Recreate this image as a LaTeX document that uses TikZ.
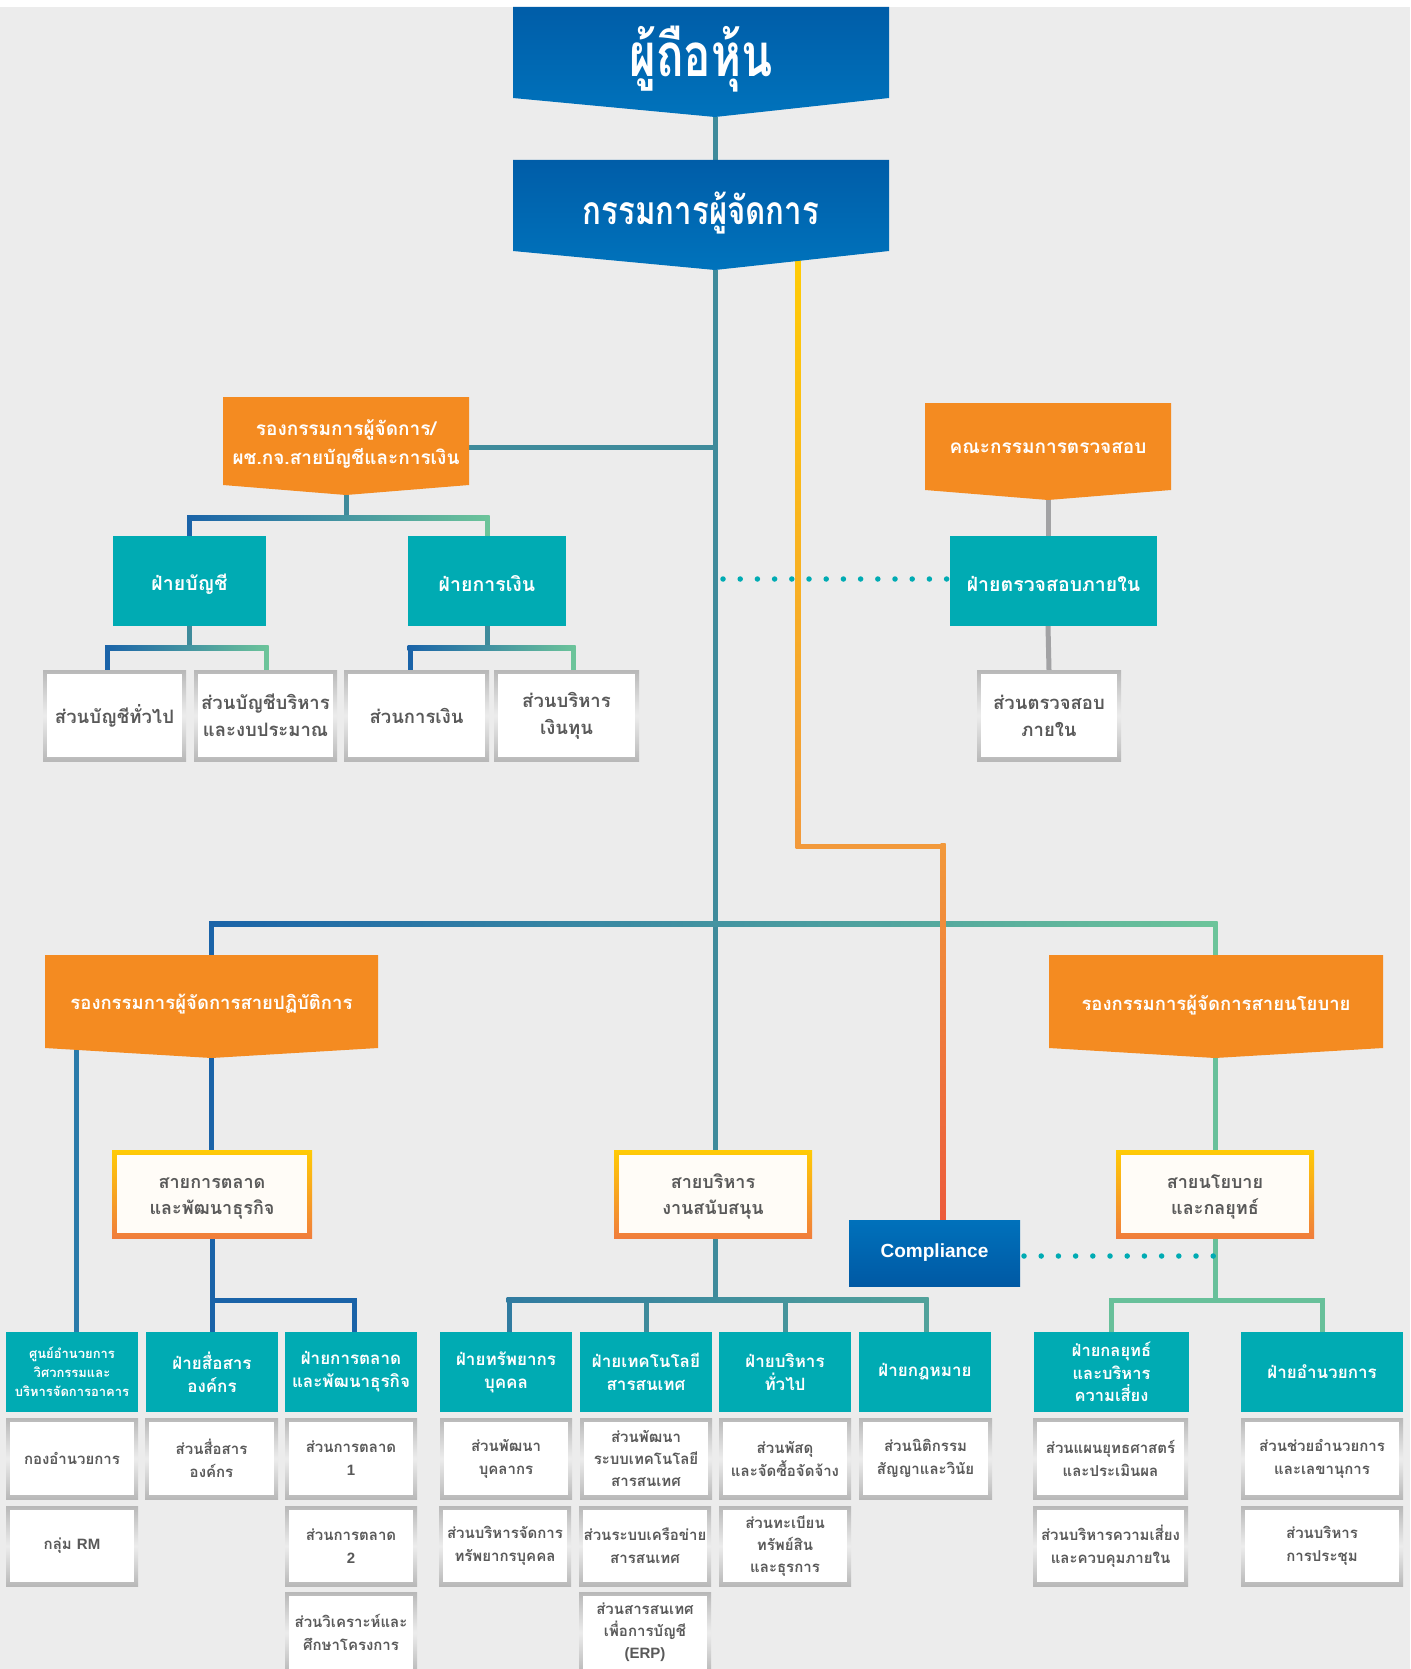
\documentclass[tikz,border=0pt]{standalone}
\usepackage{fontspec}
\setmainfont{Liberation Sans}
\newfontfamily\thai[Script=Thai]{Loma}
\newfontfamily\lsans{Liberation Sans}
\usetikzlibrary{calc}
\pgfdeclarelayer{bg}\pgfdeclarelayer{lines}\pgfdeclarelayer{shapes}
\pgfsetlayers{bg,lines,shapes,main}
\definecolor{bgc}{HTML}{ECECEC}
\definecolor{tealc}{HTML}{00ABB3}
\definecolor{orc}{HTML}{F48B21}
\definecolor{blu1}{HTML}{005DA8}
\definecolor{blu2}{HTML}{0073BC}
\definecolor{cmp1}{HTML}{0071BB}
\definecolor{cmp2}{HTML}{0059A4}
\definecolor{cb}{HTML}{1A63A8}
\definecolor{cbb}{HTML}{2A7BAA}
\definecolor{ct}{HTML}{3F8B9B}
\definecolor{cg}{HTML}{6CC49A}
\definecolor{gryl}{HTML}{A2A2A4}
\definecolor{txtg}{HTML}{595959}
\definecolor{gr1}{HTML}{B8B8B8}
\definecolor{gr2}{HTML}{ECECEC}
\definecolor{yel}{HTML}{FFCB05}
\definecolor{org2}{HTML}{F07D3C}
\definecolor{offw}{HTML}{FFFCF7}
\definecolor{orgL}{HTML}{F2993B}
\definecolor{redo}{HTML}{EC5B3C}
\newcommand\fsz[2]{\fontsize{#1}{#2}\selectfont}
\newcommand\lat[1]{{\lsans\bfseries #1}}
\newcommand\saytext[2]{\raisebox{-2.5pt}[\height][\depth]{\begin{tabular}{@{}c@{}}#1\\#2\end{tabular}}}
\newcommand\lowr[1]{\raisebox{-3pt}[\height][\depth]{#1}}
\begin{document}
\begin{tikzpicture}[x=1pt,y=-1pt,
  every node/.style={inner sep=0pt,outer sep=0pt},
  sz/.style 2 args={minimum width=#1pt,minimum height=#2pt},
  chev/.style={rectangle},
  ctxt/.style={text=white,align=center},
  ln/.style={line width=5pt},
  dots/.style={draw=tealc,line width=5.5pt,line cap=round,dash pattern=on 0pt off 17.2pt},
  tealbox/.style={rectangle,fill=tealc,text=white,align=center},
  subbox/.style={rectangle,top color=gr1,bottom color=gr1,middle color=gr2,text=txtg,align=center,
    path picture={\fill[white] ([xshift=4pt,yshift=-4pt]path picture bounding box.north west) rectangle ([xshift=-4pt,yshift=4pt]path picture bounding box.south east);}},
  saybox/.style={rectangle,top color=yel,bottom color=org2,text=txtg,align=center,
    font=\thai\bfseries\fsz{18}{26},
    path picture={\fill[offw] ([xshift=5pt,yshift=-5pt]path picture bounding box.north west) rectangle ([xshift=-5pt,yshift=5pt]path picture bounding box.south east);}},
  subA/.style={subbox,font=\thai\bfseries\fsz{18.5}{27}},
  subB/.style={subbox,font=\thai\bfseries\fsz{15}{23}},
  tealA/.style={tealbox,font=\thai\bfseries\fsz{19.5}{28}},
  tealB/.style={tealbox,font=\thai\bfseries\fsz{17}{23}},
  compbox/.style={rectangle,top color=cmp1,bottom color=cmp2,text=white,font=\lsans\bfseries\fsz{19}{22}}
]
\useasboundingbox (0,0) rectangle (1410,1669);
\begin{pgfonlayer}{bg}
\fill[white] (0,0) rectangle (1410,1669);
\fill[bgc] (0,7) rectangle (1410,1669);
\end{pgfonlayer}

% ---------- chevron headers ----------
\node[chev,sz={376}{91}] (sh) at (701,52.5) {};
\coordinate (shtip) at (715,117);
\node[ctxt,font=\thai\bfseries\fsz{60}{62}] (sht) at (701,59) {\scalebox{0.76}[1]{ผู้ถือหุ้น}};

\node[chev,sz={376}{91}] (md) at (701,205.5) {};
\coordinate (mdtip) at (715,270);
\node[ctxt,font=\thai\bfseries\fsz{39}{40}] (mdt) at (701,213) {\scalebox{0.8}[1]{กรรมการผู้จัดการ}};

\node[chev,sz={246}{88}] (dfa) at (346,441) {};
\coordinate (dfatip) at (346,495);
\node[ctxt,font=\thai\bfseries\fsz{19}{29}] (dfat) at (346,444) {รองกรรมการผู้จัดการ/\\ผช.กจ.สายบัญชีและการเงิน};

\node[chev,sz={246}{87}] (ac) at (1048,446.5) {};
\coordinate (actip) at (1048,500);
\node[ctxt,font=\thai\bfseries\fsz{19}{29}] (act) at (1048,448) {คณะกรรมการตรวจสอบ};

\node[chev,sz={333}{93}] (dop) at (211.5,1001.5) {};
\coordinate (doptip) at (211.5,1058);
\node[ctxt,font=\thai\bfseries\fsz{18.5}{29}] (dopt) at (211.5,1004) {รองกรรมการผู้จัดการสายปฏิบัติการ};

\node[chev,sz={334}{93}] (dpol) at (1216,1001.5) {};
\coordinate (dpoltip) at (1215,1058);
\node[ctxt,font=\thai\bfseries\fsz{18.5}{29}] (dpolt) at (1216,1005) {รองกรรมการผู้จัดการสายนโยบาย};

\begin{pgfonlayer}{shapes}
\shade[top color=blu1,bottom color=blu2] (sh.north west) -- (sh.north east) -- (sh.south east) -- (shtip) -- (sh.south west) -- cycle;
\shade[top color=blu1,bottom color=blu2] (md.north west) -- (md.north east) -- (md.south east) -- (mdtip) -- (md.south west) -- cycle;
\fill[orc] (dfa.north west) -- (dfa.north east) -- (dfa.south east) -- (dfatip) -- (dfa.south west) -- cycle;
\fill[orc] (ac.north west) -- (ac.north east) -- (ac.south east) -- (actip) -- (ac.south west) -- cycle;
\fill[orc] (dop.north west) -- (dop.north east) -- (dop.south east) -- (doptip) -- (dop.south west) -- cycle;
\fill[orc] (dpol.north west) -- (dpol.north east) -- (dpol.south east) -- (dpoltip) -- (dpol.south west) -- cycle;
\end{pgfonlayer}

% ---------- upper departments ----------
\node[tealA,sz={153}{90}] (acc) at (189.5,581) {\lowr{ฝ่ายบัญชี}};
\node[tealA,sz={158}{90}] (fin) at (487,581) {\lowr{ฝ่ายการเงิน}};
\node[tealA,sz={207}{90}] (ia) at (1053.5,581) {\lowr{ฝ่ายตรวจสอบภายใน}};

\node[subA,sz={143}{91}] (s1) at (114.5,715.5) {ส่วนบัญชีทั่วไป};
\node[subA,sz={143}{91}] (s2) at (265.5,715.5) {ส่วนบัญชีบริหาร\\และงบประมาณ};
\node[subA,sz={145}{91}] (s3) at (416.5,715.5) {ส่วนการเงิน};
\node[subA,sz={145}{91}] (s4) at (566.5,715.5) {ส่วนบริหาร\\เงินทุน};
\node[subA,sz={144}{91}] (s5) at (1049,715.5) {ส่วนตรวจสอบ\\ภายใน};

% ---------- lines of business ----------
\node[saybox,sz={200}{88}] (mk) at (212,1194) {\saytext{สายการตลาด}{และพัฒนาธุรกิจ}};
\node[saybox,sz={198}{88}] (sp) at (713,1194) {\saytext{สายบริหาร}{งานสนับสนุน}};
\node[saybox,sz={198}{88}] (ps) at (1215,1194) {\saytext{สายนโยบาย}{และกลยุทธ์}};
\node[compbox,sz={171}{66}] (comp) at (934.5,1253) {Compliance};

% ---------- lower departments ----------
\node[tealB,sz={132}{80},font=\thai\bfseries\fsz{13}{19}] (d1) at (72,1372) {ศูนย์อำนวยการ\\วิศวกรรมและ\\บริหารจัดการอาคาร};
\node[tealB,sz={132}{80}] (d2) at (212,1372) {ฝ่ายสื่อสาร\\องค์กร};
\node[tealB,sz={132}{80}] (d3) at (351,1372) {ฝ่ายการตลาด\\และพัฒนาธุรกิจ};
\node[tealB,sz={132}{80}] (d4) at (506,1372) {ฝ่ายทรัพยากร\\บุคคล};
\node[tealB,sz={132}{80}] (d5) at (646,1372) {ฝ่ายเทคโนโลยี\\สารสนเทศ};
\node[tealB,sz={132}{80}] (d6) at (785,1372) {ฝ่ายบริหาร\\ทั่วไป};
\node[tealB,sz={132}{80}] (d7) at (925,1372) {ฝ่ายกฎหมาย};
\node[tealB,sz={155}{80},font=\thai\bfseries\fsz{16.5}{22.5}] (d8) at (1111.5,1372) {ฝ่ายกลยุทธ์\\และบริหาร\\ความเสี่ยง};
\node[tealB,sz={162}{80}] (d9) at (1322,1372) {ฝ่ายอำนวยการ};

\node[subB,sz={132}{81}] (c1a) at (72,1458.5) {กองอำนวยการ};
\node[subB,sz={132}{80}] (c1b) at (72,1546) {กลุ่ม \lat{RM}};
\node[subB,sz={133}{81}] (c2a) at (211.5,1458.5) {ส่วนสื่อสาร\\องค์กร};
\node[subB,sz={132}{81}] (c3a) at (351,1458.5) {ส่วนการตลาด\\\lat{1}};
\node[subB,sz={132}{80}] (c3b) at (351,1546) {ส่วนการตลาด\\\lat{2}};
\node[subB,sz={132}{81}] (c3c) at (351,1632.5) {ส่วนวิเคราะห์และ\\ศึกษาโครงการ};
\node[subB,sz={132}{81}] (c4a) at (506,1458.5) {ส่วนพัฒนา\\บุคลากร};
\node[subB,sz={132}{80}] (c4b) at (505,1546) {ส่วนบริหารจัดการ\\ทรัพยากรบุคคล};
\node[subB,sz={132}{81},font=\thai\bfseries\fsz{15}{22}] (c5a) at (646,1458.5) {ส่วนพัฒนา\\ระบบเทคโนโลยี\\สารสนเทศ};
\node[subB,sz={132}{80}] (c5b) at (645,1546) {ส่วนระบบเครือข่าย\\สารสนเทศ};
\node[subB,sz={132}{81},font=\thai\bfseries\fsz{15}{22}] (c5c) at (645,1632.5) {ส่วนสารสนเทศ\\เพื่อการบัญชี\\\lat{(ERP)}};
\node[subB,sz={132}{81}] (c6a) at (785,1458.5) {ส่วนพัสดุ\\และจัดซื้อจัดจ้าง};
\node[subB,sz={132}{80},font=\thai\bfseries\fsz{15}{22}] (c6b) at (785,1546) {ส่วนทะเบียน\\ทรัพย์สิน\\และธุรการ};
\node[subB,sz={133}{81}] (c7a) at (925.5,1458.5) {ส่วนนิติกรรม\\สัญญาและวินัย};
\node[subB,sz={155}{81}] (c8a) at (1110.5,1458.5) {ส่วนแผนยุทธศาสตร์\\และประเมินผล};
\node[subB,sz={155}{80}] (c8b) at (1110.5,1546) {ส่วนบริหารความเสี่ยง\\และควบคุมภายใน};
\node[subB,sz={162}{81}] (c9a) at (1322,1458.5) {ส่วนช่วยอำนวยการ\\และเลขานุการ};
\node[subB,sz={162}{80}] (c9b) at (1322,1546) {ส่วนบริหาร\\การประชุม};

% ---------- connectors ----------
\begin{pgfonlayer}{lines}
\draw[ln,ct] (shtip) -- (md.north -| shtip);
\draw[ln,ct] (mdtip) -- (mdtip |- sp.north);
\coordinate (j1) at (715,447);
\draw[ln,ct] (j1) -- (j1 -| dfa.east);
% dfa bracket
\coordinate (b1) at (346,518);
\draw[ln,ct] (dfatip) -- (b1);
\draw[ln,cb] (acc.north |- b1) -- (acc.north);
\draw[ln,cg] (fin.north |- b1) -- (fin.north);
\shade[left color=cb,middle color=ct,right color=cg] ($(acc.north |- b1)+(-2.5,-2.5)$) rectangle ($(fin.north |- b1)+(2.5,2.5)$);
% acc bracket
\coordinate (b2) at (189.5,648);
\coordinate (b2L) at ($(s1.north |- b2)+(-7,0)$);
\coordinate (b2R) at ($(s2.north |- b2)+(0.5,0)$);
\draw[ln,ct] (acc.south) -- (b2);
\draw[ln,cb] (b2L) -- (b2L |- s1.north);
\draw[ln,cg] (b2R) -- (b2R |- s2.north);
\shade[left color=cb,middle color=ct,right color=cg] ($(b2L)+(-2.5,-2.5)$) rectangle ($(b2R)+(2.5,2.5)$);
% fin bracket
\coordinate (b3) at (487,648);
\coordinate (b3L) at ($(s3.north |- b3)+(-6.5,0)$);
\coordinate (b3R) at ($(s4.north |- b3)+(6.5,0)$);
\draw[ln,ct] (fin.south) -- (b3);
\draw[ln,cb] (b3L) -- (b3L |- s3.north);
\draw[ln,cg] (b3R) -- (b3R |- s4.north);
\shade[left color=cb,middle color=ct,right color=cg] ($(b3L)+(-2.5,-2.5)$) rectangle ($(b3R)+(2.5,2.5)$);
% audit
\draw[ln,gryl] (actip) -- (ia.north -| actip);
\draw[ln,gryl] (ia.south -| actip) -- (s5.north);
\draw[dots] ($(mdtip |- ia.west)+(8,-2)$) -- ($(ia.west)+(0,-2)$);
% main bus
\coordinate (b4) at (715,924);
\draw[ln,cb] (dop.north |- b4) -- (dop.north);
\draw[ln,cg] (dpoltip |- b4) -- (dpoltip |- dpol.north);
\shade[left color=cb,middle color=ct,right color=cg] ($(dop.north |- b4)+(-2.5,-2.5)$) rectangle ($(dpoltip |- b4)+(2.5,2.5)$);
% operations
\draw[ln,cb] (doptip) -- (doptip |- mk.north);
\coordinate (dl) at (76,1040);
\draw[ln,cbb] (dl) -- (d1.north -| dl);
\coordinate (b5) at (212,1300);
\coordinate (b5R) at ($(d3.north |- b5)+(3,0)$);
\draw[ln,cb] (mk.south) -- (b5);
\draw[ln,cb,line join=miter] (d2.north) -- (d2.north |- b5) -- (b5R) -- (b5R |- d3.north);
% support
\coordinate (b6) at (715,1300);
\coordinate (b6a) at ($(d4.north |- b6)+(3,0)$);
\coordinate (b6d) at ($(d7.north |- b6)+(1,0)$);
\draw[ln,ct] (mdtip |- sp.south) -- (b6);
\draw[ln,ct!60!cb] (b6a) -- (b6a |- d4.north);
\draw[ln,ct] (d5.north |- b6) -- (d5.north);
\draw[ln,ct!85!cg] (d6.north |- b6) -- (d6.north);
\draw[ln,ct!60!cg] (b6d) -- (b6d |- d7.north);
\shade[left color=ct!60!cb,right color=ct!60!cg] ($(b6a)+(-2.5,-2.5)$) rectangle ($(b6d)+(2.5,2.5)$);
% policy
\coordinate (b7) at (1215,1300);
\draw[ln,cg!92!ct] (dpoltip) -- (ps.north);
\draw[ln,cg!92!ct] (ps.south) -- (b7);
\draw[ln,cg!92!ct,line join=miter] (d8.north) -- (d8.north |- b7) -- (d9.north |- b7) -- (d9.north);
\draw[dots] ($(comp.east)+(4,3)$) -- ($(b7 |- comp.east)+(0,3)$);
% compliance line
\coordinate (y1) at (798,258);
\coordinate (y2) at (798,846);
\coordinate (y3) at (943,846);
\shade[top color=yel,bottom color=orgL] ($(y1)+(-2.5,0)$) rectangle ($(y2)+(2.5,2.5)$);
\fill[orgL] ($(y2)+(-2.5,-2.5)$) rectangle ($(y3)+(2.5,2.5)$);
\shade[top color=orgL,bottom color=redo] ($(y3)+(-2.5,-2.5)$) rectangle ($(y3 |- comp.north)+(2.5,0)$);
\end{pgfonlayer}
\end{tikzpicture}
\end{document}
